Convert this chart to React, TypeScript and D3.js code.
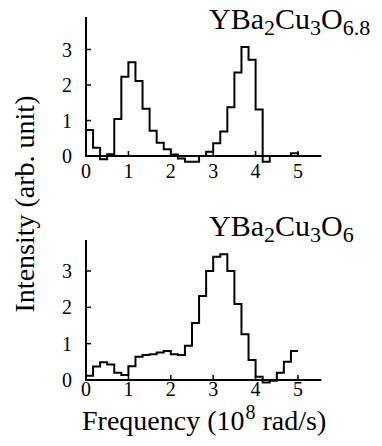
import React from "react";
import * as d3 from "d3";

// Histogram bin width (10^8 rad/s)
const BIN = 1 / 6;
const xTicks = [0, 1, 2, 3, 4, 5];
const yTicks = [0, 1, 2, 3];

// YBa2Cu3O6.8 histogram values (bins of 1/6 starting at 0)
const topValues = [
  0.73, 0.23, -0.09, 0.05, 1.04, 2.23, 2.64, 2.11, 1.33, 0.71, 0.37, 0.19,
  0.04, -0.07, -0.16, -0.16, 0.0, 0.12, 0.36, 0.69, 1.37, 2.35, 3.07, 2.71,
  1.31, -0.16, 0, 0, 0, 0.08, 0,
];
// YBa2Cu3O6 histogram values
const bottomValues = [
  0.12, 0.37, 0.49, 0.43, 0.2, 0.14, 0.38, 0.64, 0.69, 0.71, 0.76, 0.8, 0.71,
  0.69, 0.94, 1.57, 2.31, 3.0, 3.39, 3.46, 3.0, 2.09, 1.26, 0.55, 0.09, -0.07,
  -0.02, 0.2, 0.5, 0.8,
];

const FONT = "Liberation Serif, DejaVu Serif, serif";
const txt = { fontFamily: FONT };

function stepPath(values: number[], x: d3.ScaleLinear<number, number>, y: d3.ScaleLinear<number, number>, closeEnd: boolean) {
  const p = d3.path();
  p.moveTo(x(0), y(0));
  values.forEach((v, i) => {
    p.lineTo(x(i * BIN), y(v));
    p.lineTo(x((i + 1) * BIN), y(v));
  });
  if (closeEnd) p.lineTo(x(values.length * BIN), y(0));
  return p.toString();
}

function Panel({ values, y0, y3, yTop, titleY, closeEnd, sub }: { values: number[]; y0: number; y3: number; yTop: number; titleY: number; closeEnd: boolean; sub: string }) {
  const x = d3.scaleLinear().domain([0, 5]).range([86, 298]);
  const y = d3.scaleLinear().domain([0, 3]).range([y0, y3]);
  const xEnd = 5.55;
  return (
    <g>
      <line x1={x(0)} x2={x(0)} y1={y(0)} y2={yTop} stroke="#000" strokeWidth={2} />
      <line x1={x(0) - 1} x2={x(xEnd)} y1={y(0)} y2={y(0)} stroke="#000" strokeWidth={2} />
      {xTicks.map((t) => (
        <line key={"x" + t} x1={x(t)} x2={x(t)} y1={y(0)} y2={y(0) - 5} stroke="#000" strokeWidth={1.5} />
      ))}
      {yTicks.map((t) => (
        <g key={"y" + t}>
          <line x1={x(0)} x2={x(0) + 5} y1={y(t)} y2={y(t)} stroke="#000" strokeWidth={1.5} />
          <text x={x(0) - 14} y={y(t)} dy="0.35em" textAnchor="end" fontSize={20} style={txt}>
            {t}
          </text>
        </g>
      ))}
      <path d={stepPath(values, x, y, closeEnd)} fill="none" stroke="#000" strokeWidth={2} strokeLinejoin="miter" />
      <text x={209} y={titleY} fontSize={30} style={txt}>
        YBa
        <tspan fontSize={22} dy={6}>2</tspan>
        <tspan dy={-6}>Cu</tspan>
        <tspan fontSize={22} dy={6}>3</tspan>
        <tspan dy={-6}>O</tspan>
        <tspan fontSize={22} dy={6}>{sub}</tspan>
      </text>
    </g>
  );
}

export default function App() {
  const x = d3.scaleLinear().domain([0, 5]).range([86, 298]);
  return (
    <svg width={382} height={446} style={{ position: "absolute", left: 0, top: 0, background: "#fff" }}>
      <rect width={382} height={446} fill="#fff" />
      <Panel values={topValues} y0={156} y3={49.5} yTop={17} titleY={29} closeEnd={true} sub="6.8" />
      <Panel values={bottomValues} y0={380} y3={271} yTop={240} titleY={236} closeEnd={false} sub="6" />
      {xTicks.map((t) => (
        <text key={"tx" + t} x={x(t)} y={178} textAnchor="middle" fontSize={20} style={txt}>
          {t}
        </text>
      ))}
      {xTicks.map((t) => (
        <text key={"bx" + t} x={x(t)} y={396} textAnchor="middle" fontSize={20} style={txt}>
          {t}
        </text>
      ))}
      <text x={82} y={430} fontSize={28} style={txt}>
        Frequency (10
        <tspan fontSize={20} dy={-11} dx={1}>8</tspan>
        <tspan dy={11}> rad/s)</tspan>
      </text>
      <text transform="translate(34,204) rotate(-90)" textAnchor="middle" fontSize={28} style={txt}>
        Intensity  (arb. unit)
      </text>
    </svg>
  );
}
